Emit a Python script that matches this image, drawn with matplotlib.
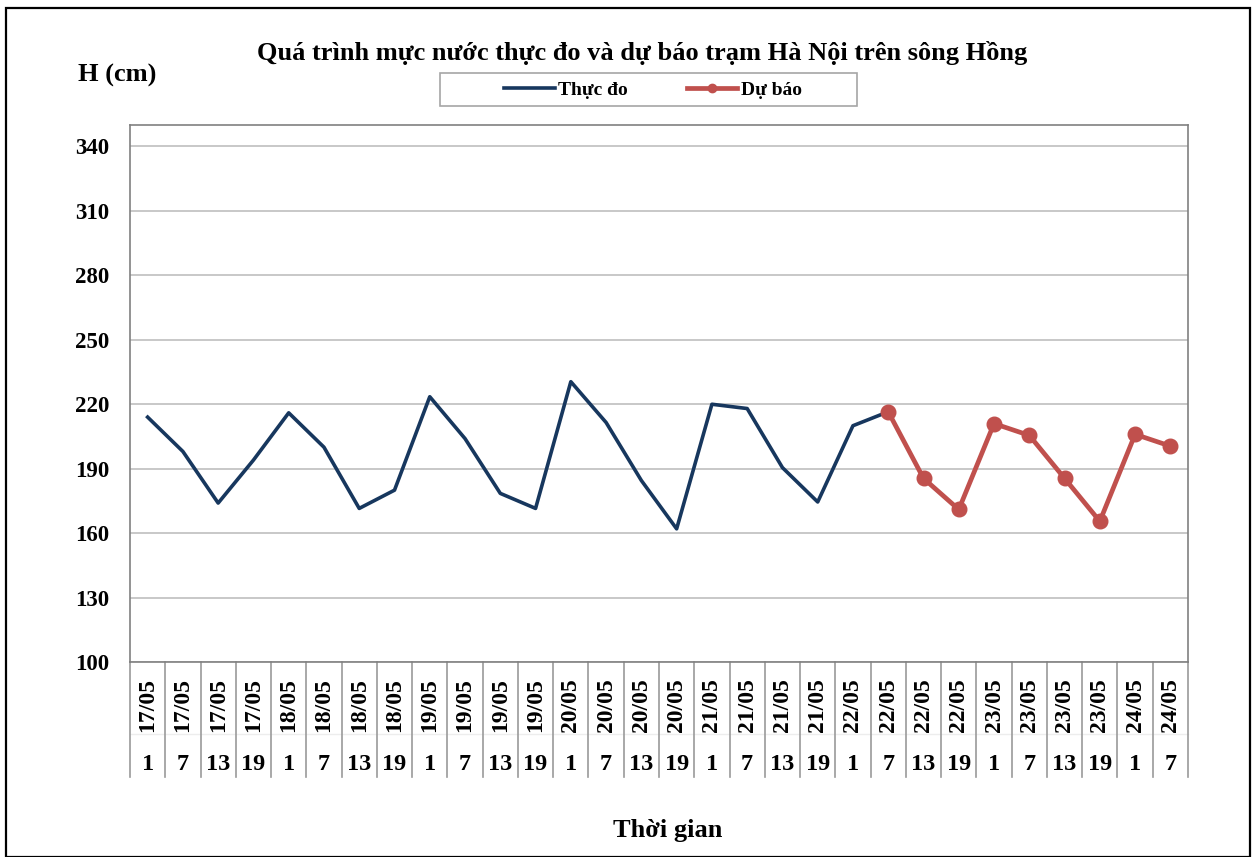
import numpy as np
import matplotlib.pyplot as plt
from matplotlib.patches import Rectangle

plt.rcParams['font.family'] = ['Liberation Serif', 'DejaVu Serif']
plt.rcParams['font.weight'] = 'bold'

# Data
dates = ['17/05'] * 4 + ['18/05'] * 4 + ['19/05'] * 4 + ['20/05'] * 4 + \
        ['21/05'] * 4 + ['22/05'] * 4 + ['23/05'] * 4 + ['24/05'] * 2
hours = ['1', '7', '13', '19'] * 7 + ['1', '7']
observed = [214, 198, 174, 194, 216, 200, 171.5, 180, 223.5, 204, 178.5, 171.5,
            230.5, 211.5, 184.5, 162, 220, 218, 190.5, 174.5, 210, 216.5]
forecast_start = 21
forecast = [216.5, 185.5, 171, 211, 205.5, 185.5, 165.5, 206, 200.5]

n = len(dates)
x = np.arange(n)

fig = plt.figure(figsize=(12.57, 8.57), dpi=100)
W, H = 1257, 857
ax = fig.add_axes([130 / W, (H - 662) / H, (1188 - 130) / W, (662 - 125) / H])

# Outer frame
fig.patches.append(Rectangle((6 / W, 0), (1250 - 6) / W, (H - 8) / H,
                             transform=fig.transFigure, fill=False,
                             edgecolor='black', linewidth=1.6))

ax.plot(x[:len(observed)], observed, color='#17375E', linewidth=2.6,
        label='Thực đo', zorder=3)
ax.plot(x[forecast_start:forecast_start + len(forecast)], forecast,
        color='#C0504D', linewidth=3.4, marker='o', markersize=10.5,
        label='Dự báo', zorder=4)

ax.set_xlim(-0.5, n - 0.5)
ax.set_ylim(100, 350)
ax.set_yticks(np.arange(100, 341, 30))
ax.yaxis.grid(True, color='#BFBFBF', linewidth=1.2)
ax.set_axisbelow(True)
for s in ax.spines.values():
    s.set_color('#808080')
    s.set_linewidth(1.2)
ax.tick_params(axis='y', length=0, labelsize=16.5, pad=15)
ax.set_xticks([])

# Category table under x-axis
tr = ax.get_xaxis_transform()
ax.plot([-0.5, n - 0.5], [-0.134, -0.134], transform=tr, color='#EDEDED',
        linewidth=1, clip_on=False)
for i in range(n + 1):
    ax.plot([i - 0.5, i - 0.5], [0, -0.214], transform=tr, color='#9A9A9A',
            linewidth=1.2, clip_on=False)
for i in range(n):
    ax.text(i, -0.08, dates[i], transform=tr, rotation=90, ha='center',
            va='center', fontsize=17, fontweight='bold')
    ax.text(i, -0.19, hours[i], transform=tr, ha='center', va='center',
            fontsize=17.5, fontweight='bold')

fig.text(642 / W, 1 - 53 / H,
         'Quá trình mực nước thực đo và dự báo trạm Hà Nội trên sông Hồng',
         ha='center', va='center', fontsize=19, fontweight='bold')
fig.text(117 / W, 1 - 75 / H, 'H (cm)', ha='center', va='center',
         fontsize=19, fontweight='bold')
fig.text(668 / W, 1 - 831 / H, 'Thời gian', ha='center', va='center',
         fontsize=19, fontweight='bold')

# Legend with a wide Excel-like box
fig.patches.append(Rectangle((440 / W, 1 - 106 / H), (857 - 440) / W, 33 / H,
                             transform=fig.transFigure, fill=False,
                             edgecolor='#A6A6A6', linewidth=1.2))
leg = fig.legend(loc='center', bbox_to_anchor=(653 / W, 1 - 90 / H), ncol=2,
                 frameon=False, handlelength=2.6, columnspacing=3.0,
                 borderpad=0, borderaxespad=0, handletextpad=0.2,
                 prop={'weight': 'bold', 'size': 14})
for h in leg.legend_handles:
    h.set_markersize(6)

fig.savefig('out.png', dpi=100)
